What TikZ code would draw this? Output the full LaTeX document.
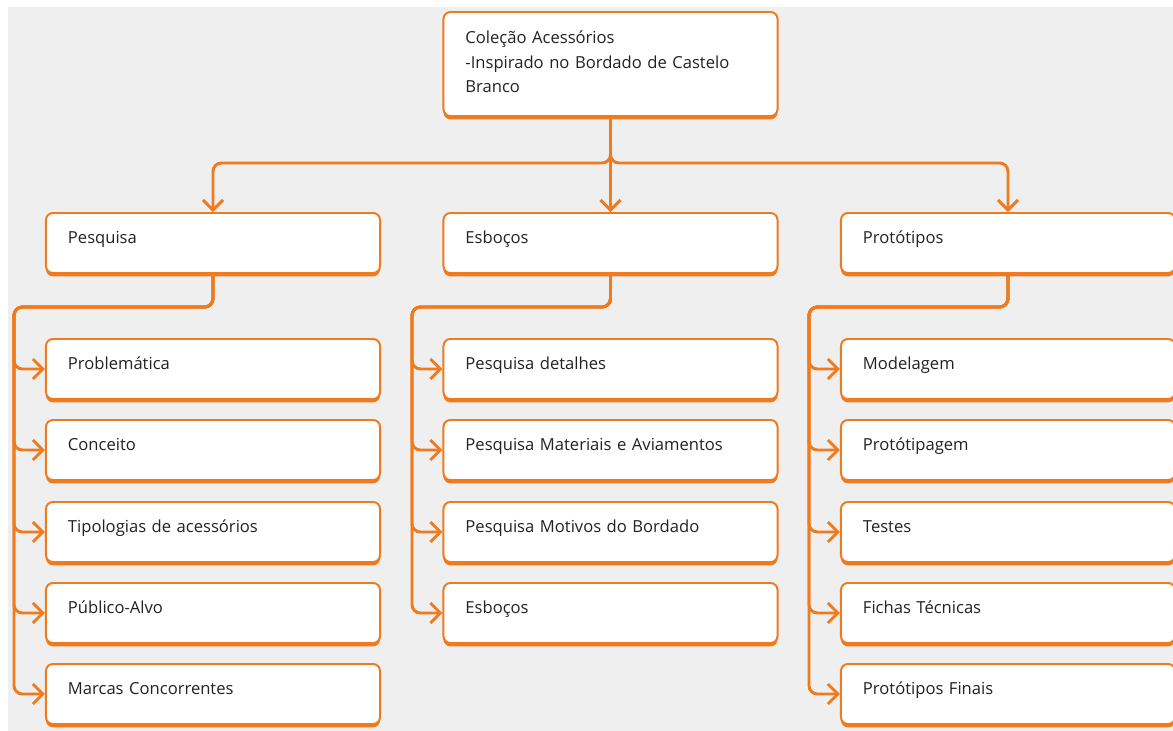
\documentclass[tikz,border=0pt]{standalone}
\usepackage{fontspec}
\setmainfont{Open Sans}
\usetikzlibrary{arrows.meta}
\usetikzlibrary{shadows}
\definecolor{laranja}{HTML}{F07A1E}
\definecolor{fundo}{HTML}{EFEFEF}
\definecolor{texto}{HTML}{222222}

\begin{document}
\begin{tikzpicture}[x=0.025cm, y=-0.025cm,
    box/.style={draw=laranja, line width=1.4pt, fill=white, rounded corners=5pt,
      minimum width=8.35cm, minimum height=1.5cm, text width=7.25cm, align=left,
      inner xsep=0.55cm, text=texto, font=\fontsize{11.8}{17.4}\selectfont,
      drop shadow={shadow xshift=0pt, shadow yshift=-2.4pt, fill=laranja, opacity=1}},
    item/.style={box, text height=0.3cm, text depth=0.3cm},
    conn/.style={draw=laranja, line width=2.1pt, rounded corners=6pt,
      -{Straight Barb[length=2.5mm, width=5mm, line width=2.1pt]}}]
  \useasboundingbox (0,0) rectangle (1173,731);
  \fill[fundo] (8,7) rectangle (1173,731);

  % root
  \node[box, minimum height=2.6cm, text depth=1.32cm] (root) at (610.5,64) {Coleção Acessórios\\-Inspirado no Bordado de Castelo Branco};

  % main branches
  \node[item] (pesquisa) at (213,243) {Pesquisa};
  \node[item] (esbocos) at (610.5,243) {Esboços};
  \node[item] (prototipos) at (1008,243) {Protótipos};

  % Pesquisa
  \node[item] (problematica) at (213,369) {Problemática};
  \node[item] (conceito) at (213,450) {Conceito};
  \node[item] (tipologias) at (213,532) {Tipologias de acessórios};
  \node[item] (publico) at (213,613) {Público-Alvo};
  \node[item] (marcas) at (213,694) {Marcas Concorrentes};

  % Esboços
  \node[item] (detalhes) at (610.5,369) {Pesquisa detalhes};
  \node[item] (materiais) at (610.5,450) {Pesquisa Materiais e Aviamentos};
  \node[item] (motivos) at (610.5,532) {Pesquisa Motivos do Bordado};
  \node[item] (esbocosfim) at (610.5,613) {Esboços};

  % Protótipos
  \node[item] (modelagem) at (1008,369) {Modelagem};
  \node[item] (prototipagem) at (1008,450) {Protótipagem};
  \node[item] (testes) at (1008,532) {Testes};
  \node[item] (fichas) at (1008,613) {Fichas Técnicas};
  \node[item] (finais) at (1008,694) {Protótipos Finais};

  \coordinate (split) at (610.5,163);
  \coordinate (pbend) at (14,307);
  \coordinate (ebend) at (412,307);
  \coordinate (tbend) at (809,307);

  \draw[conn] (root.south) -- (split) -| (pesquisa.north);
  \draw[conn] (root.south) -- (esbocos.north);
  \draw[conn] (root.south) -- (split) -| (prototipos.north);

  \draw[conn] (pesquisa.south) |- (pbend) |- (problematica.west);
  \draw[conn] (pesquisa.south) |- (pbend) |- (conceito.west);
  \draw[conn] (pesquisa.south) |- (pbend) |- (tipologias.west);
  \draw[conn] (pesquisa.south) |- (pbend) |- (publico.west);
  \draw[conn] (pesquisa.south) |- (pbend) |- (marcas.west);

  \draw[conn] (esbocos.south) |- (ebend) |- (detalhes.west);
  \draw[conn] (esbocos.south) |- (ebend) |- (materiais.west);
  \draw[conn] (esbocos.south) |- (ebend) |- (motivos.west);
  \draw[conn] (esbocos.south) |- (ebend) |- (esbocosfim.west);

  \draw[conn] (prototipos.south) |- (tbend) |- (modelagem.west);
  \draw[conn] (prototipos.south) |- (tbend) |- (prototipagem.west);
  \draw[conn] (prototipos.south) |- (tbend) |- (testes.west);
  \draw[conn] (prototipos.south) |- (tbend) |- (fichas.west);
  \draw[conn] (prototipos.south) |- (tbend) |- (finais.west);
\end{tikzpicture}
\end{document}
